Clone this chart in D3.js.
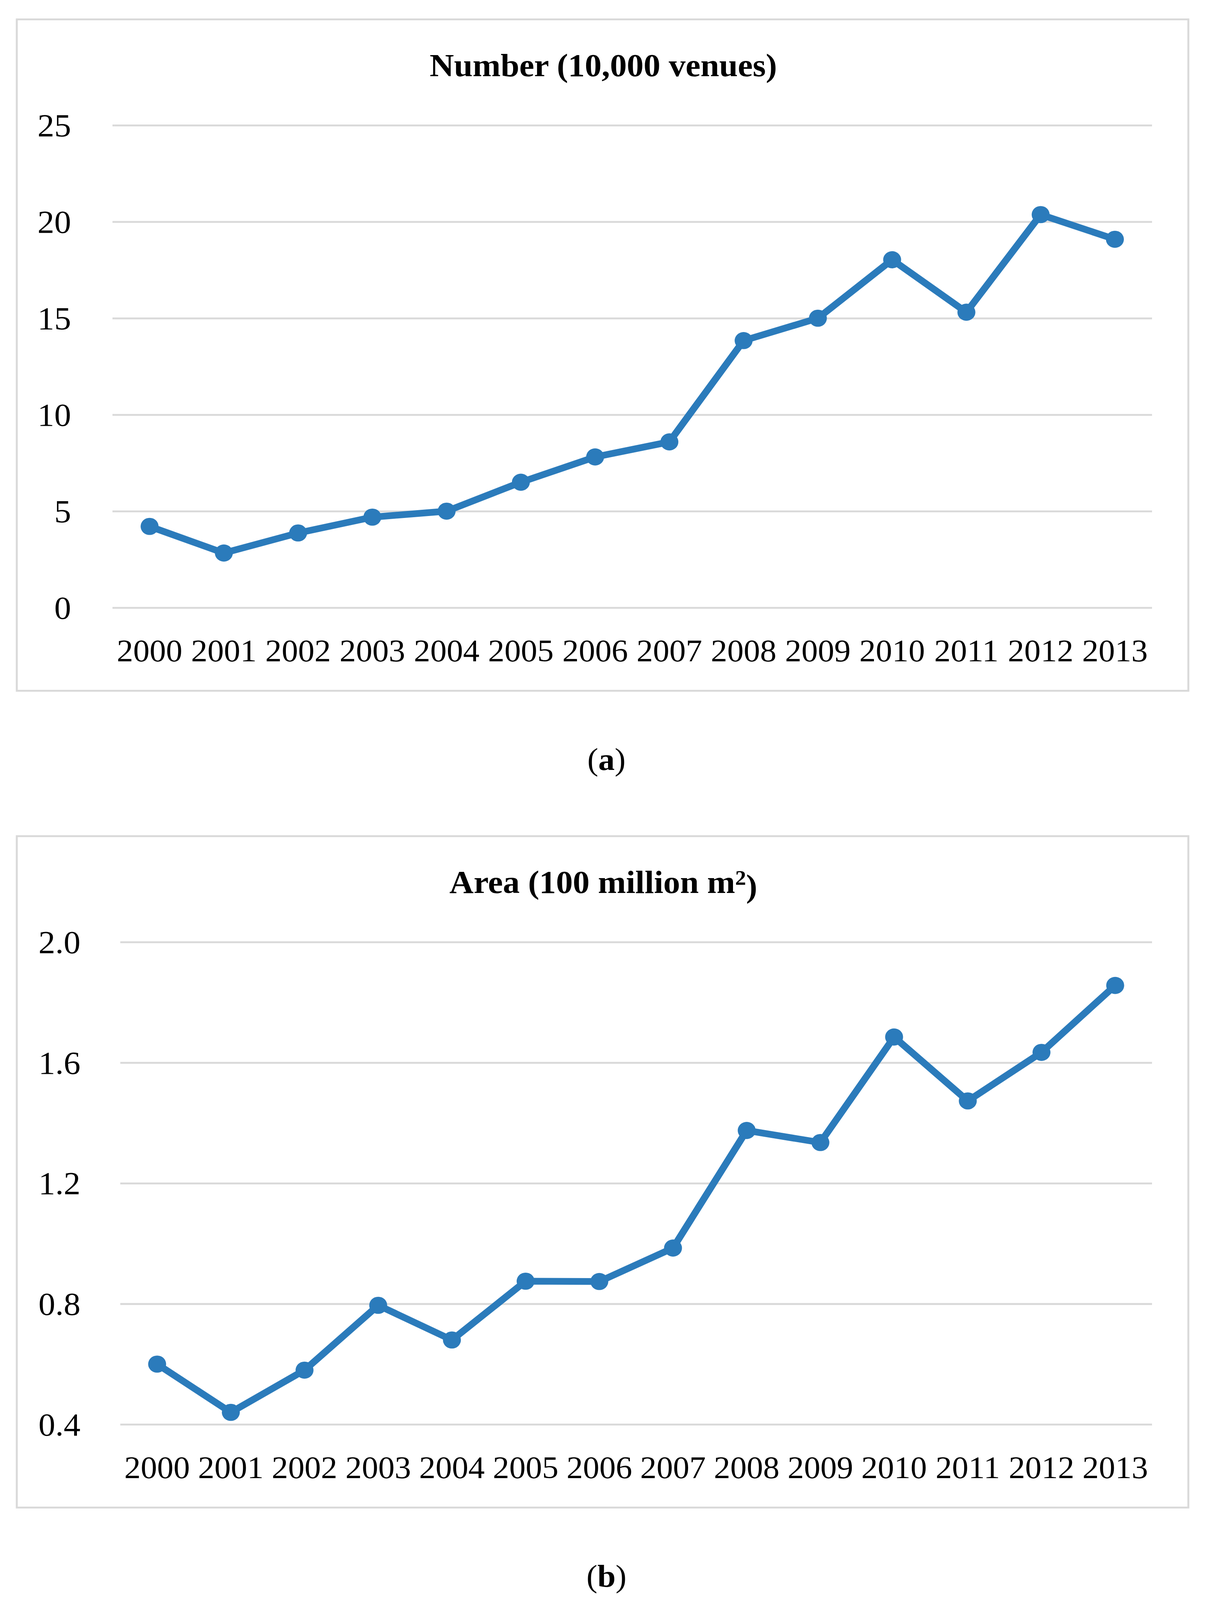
<!DOCTYPE html>
<html>
<head>
<meta charset="utf-8">
<script src="https://cdn.jsdelivr.net/npm/d3@7"></script>
<style>
  html, body { margin: 0; padding: 0; background: #fff; overflow: hidden; }
  svg { display: block; }
  text { font-family: "Liberation Serif", "Times New Roman", serif; fill: #000; }
</style>
</head>
<body>
<svg id="chart"></svg>
<script>
// data
var years = ["2000","2001","2002","2003","2004","2005","2006","2007","2008","2009","2010","2011","2012","2013"];
var numberVenues = [4.21, 2.83, 3.87, 4.69, 5.0, 6.5, 7.81, 8.59, 13.84, 15.0, 18.03, 15.31, 20.37, 19.09];
var areaValues = [0.60, 0.44, 0.58, 0.795, 0.68, 0.875, 0.874, 0.985, 1.375, 1.335, 1.685, 1.473, 1.634, 1.856];
var numberTicks = [0, 5, 10, 15, 20, 25];
var areaTicks = [0.4, 0.8, 1.2, 1.6, 2.0];

var W = 3101, H = 4292;
var blue = "#2b7bbb",
    grey = "#d9d9d9";

// drawing is laid out on a 3101x4292 canvas and stretched to the window
var svg = d3.select("#chart")
    .attr("viewBox", "0 0 " + W + " " + H)
    .attr("preserveAspectRatio", "none")
    .style("width", "100vw")
    .style("height", "100vh");

svg.append("rect").attr("width", W).attr("height", H).attr("fill", "#fff");

// one framed panel
function panel(top, opts) {
  var g = svg.append("g").attr("transform", "translate(0," + top + ")");

  // frame
  g.append("rect")
    .attr("x", 43).attr("y", 0)
    .attr("width", 3000).attr("height", 1801)
    .attr("fill", "none")
    .attr("stroke", grey)
    .attr("stroke-width", 5);

  // title
  var t = g.append("text")
    .attr("x", 1545).attr("y", 152)
    .attr("text-anchor", "middle")
    .style("font-weight", "bold")
    .style("font-size", "86px");
  opts.title(t);

  var x = d3.scaleBand()
    .domain(years)
    .range([opts.left, 2950]);

  var y = d3.scaleLinear()
    .domain(opts.domain)
    .range([1578, 284]);

  // y axis + gridlines
  var yAxis = g.append("g")
    .attr("transform", "translate(" + opts.left + ",0)")
    .call(d3.axisLeft(y)
      .tickValues(opts.ticks)
      .tickSize(-(2950 - opts.left))
      .tickPadding(opts.labelGap)
      .tickFormat(opts.fmt));
  yAxis.select(".domain").remove();
  yAxis.selectAll("line").attr("stroke", grey).attr("stroke-width", 5);
  yAxis.selectAll("text")
    .attr("dy", "0.34em")
    .style("font-size", "86px")
    .style("font-family", "Liberation Serif, serif");

  // x axis
  var xAxis = g.append("g")
    .attr("transform", "translate(0," + 1578 + ")")
    .call(d3.axisBottom(x).tickSize(0).tickPadding(84));
  xAxis.select(".domain").remove();
  xAxis.selectAll("text")
    .style("font-size", "84px")
    .style("font-family", "Liberation Serif, serif");

  var cx = function(d, i) { return x(years[i]) + x.bandwidth() / 2; };

  g.append("path")
    .datum(opts.values)
    .attr("fill", "none")
    .attr("stroke", blue)
    .attr("stroke-width", 18)
    .attr("stroke-linejoin", "round")
    .attr("d", d3.line().x(cx).y(function(d) { return y(d); }));

  g.selectAll("circle.pt")
    .data(opts.values)
    .enter().append("circle")
    .attr("class", "pt")
    .attr("cx", cx)
    .attr("cy", function(d) { return y(d); })
    .attr("r", 23)
    .attr("fill", blue);

  // caption under the frame
  var c = svg.append("text")
    .attr("x", 1553).attr("y", top + 2013)
    .attr("text-anchor", "middle")
    .style("font-size", "84px");
  c.append("tspan").text("(");
  c.append("tspan").style("font-weight", "bold").text(opts.caption);
  c.append("tspan").text(")");
}

panel(52, {
  title: function(t) { t.text("Number (10,000 venues)"); },
  values: numberVenues,
  domain: [0, 25],
  ticks: numberTicks,
  fmt: d3.format("d"),
  left: 288,
  labelGap: 106,
  caption: "a"
});

panel(2243, {
  title: function(t) {
    t.append("tspan").text("Area (100 million m");
    t.append("tspan").attr("dy", "-0.38em").style("font-size", "56px").text("2");
    t.append("tspan").attr("dy", "0.38em").text(")");
  },
  values: areaValues,
  domain: [0.4, 2.0],
  ticks: areaTicks,
  fmt: d3.format(".1f"),
  left: 308,
  labelGap: 102,
  caption: "b"
});
</script>
</body>
</html>
